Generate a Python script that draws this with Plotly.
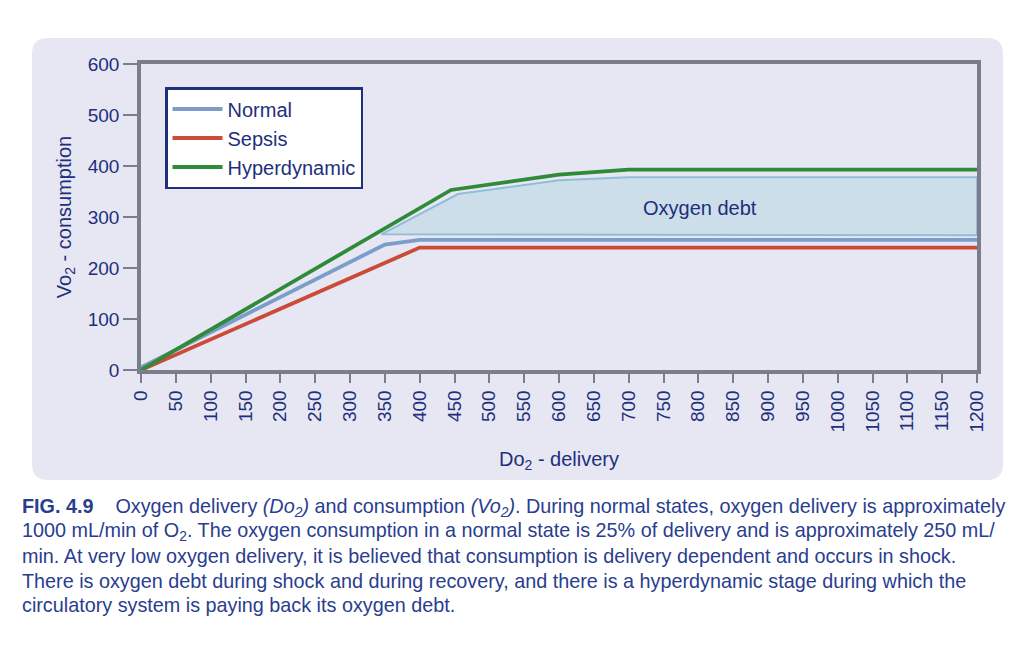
import plotly.graph_objects as go

# Delivery (x) / consumption (y) for each state
normal_x = [0, 350, 400, 1200]
normal_y = [5, 246, 255, 255]
sepsis_x = [0, 400, 1200]
sepsis_y = [0, 240, 240]
hyper_x = [0, 445, 600, 700, 1200]
hyper_y = [0, 353, 383, 393, 393]

# oxygen debt band (upper edge then lower edge back)
debt_x = [345, 455, 600, 700, 1200, 1200, 345]
debt_y = [266, 345, 372, 378, 378, 264, 266]

x_ticks = list(range(0, 1201, 50))
y_ticks = [0, 100, 200, 300, 400, 500, 600]

caption_lines = [
    "<b>FIG. 4.9</b>    Oxygen delivery <i>(Do<sub>2</sub>)</i> and consumption <i>(Vo<sub>2</sub>)</i>. "
    "During normal states, oxygen delivery is approximately",
    "1000 mL/min of O<sub>2</sub>. The oxygen consumption in a normal state is 25% of delivery "
    "and is approximately 250 mL/",
    "min. At very low oxygen delivery, it is believed that consumption is delivery dependent "
    "and occurs in shock.",
    "There is oxygen debt during shock and during recovery, and there is a hyperdynamic stage "
    "during which the",
    "circulatory system is paying back its oxygen debt.",
]

NAVY = "#1e2f7c"
AXIS = "#7c7d8c"
FONT = "Liberation Sans, Arial"
OFF = 8  # page body margin, positions below are in reference pixels
W, H = 1024 - 2 * OFF, 646 - 2 * OFF
L, T = 141 - OFF, 64 - OFF
R = W - (977 - OFF)
B = H - (370 - OFF)
pw, ph = W - L - R, H - T - B


def px(x):
    return (x - OFF - L) / pw


def py(y):
    return (H - B - (y - OFF)) / ph


fig = go.Figure()

fig.add_trace(go.Scatter(
    x=debt_x, y=debt_y, mode="lines", fill="toself",
    fillcolor="rgba(196,219,232,0.75)",
    line=dict(color="#93bdd6", width=2),
    showlegend=False, hoverinfo="skip",
))
fig.add_trace(go.Scatter(x=normal_x, y=normal_y, mode="lines", name="Normal",
                         line=dict(color="#7c9dca", width=3.8)))
fig.add_trace(go.Scatter(x=sepsis_x, y=sepsis_y, mode="lines", name="Sepsis",
                         line=dict(color="#cc4b38", width=3.8)))
fig.add_trace(go.Scatter(x=hyper_x, y=hyper_y, mode="lines", name="Hyperdynamic",
                         line=dict(color="#2f8a3a", width=3.8)))

fig.add_annotation(x=802, y=317, text="Oxygen debt", showarrow=False,
                   font=dict(size=20, color=NAVY))

# rounded panel behind the chart
x0, x1, y0, y1, r = 32, 1003, 38, 480, 16
path = (f"M {px(x0 + r)} {py(y0)} L {px(x1 - r)} {py(y0)} "
        f"Q {px(x1)} {py(y0)} {px(x1)} {py(y0 + r)} L {px(x1)} {py(y1 - r)} "
        f"Q {px(x1)} {py(y1)} {px(x1 - r)} {py(y1)} L {px(x0 + r)} {py(y1)} "
        f"Q {px(x0)} {py(y1)} {px(x0)} {py(y1 - r)} L {px(x0)} {py(y0 + r)} "
        f"Q {px(x0)} {py(y0)} {px(x0 + r)} {py(y0)} Z")
fig.add_shape(type="path", path=path, xref="paper", yref="paper",
              fillcolor="#e6e7f3", line=dict(width=0), layer="below")

for i, line in enumerate(caption_lines):
    fig.add_annotation(x=px(20), y=py(507 + i * 24.5), xref="paper", yref="paper",
                       xanchor="left", yanchor="middle", showarrow=False, text=line,
                       font=dict(size=19.8, color="#2a3d8f", family=FONT))

fig.update_layout(
    width=W, height=H,
    margin=dict(l=L, r=R, t=T, b=B),
    paper_bgcolor="white",
    plot_bgcolor="white",
    font=dict(family=FONT, color=NAVY, size=19),
    legend=dict(x=px(165), y=py(87), xanchor="left", yanchor="top",
                bgcolor="white", bordercolor=NAVY, borderwidth=2.5,
                font=dict(size=20, color=NAVY), itemwidth=50,
                tracegroupgap=0),
    xaxis=dict(range=[0, 1200], tickvals=x_ticks, tickangle=-90,
               showgrid=False, zeroline=False, showline=True, mirror=True,
               linecolor=AXIS, linewidth=3.5, ticks="outside", ticklen=9,
               tickcolor=AXIS, tickwidth=1.5,
               title=dict(text="Do<sub>2</sub> - delivery", font=dict(size=20), standoff=21)),
    yaxis=dict(range=[0, 600], tickvals=y_ticks,
               showgrid=False, zeroline=False, showline=True, mirror=True,
               linecolor=AXIS, linewidth=3.5, ticks="outside", ticklen=14,
               tickcolor=AXIS, tickwidth=1.5,
               title=dict(text="Vo<sub>2</sub> - consumption", font=dict(size=20), standoff=12)),
)

fig.write_html("out.html")
